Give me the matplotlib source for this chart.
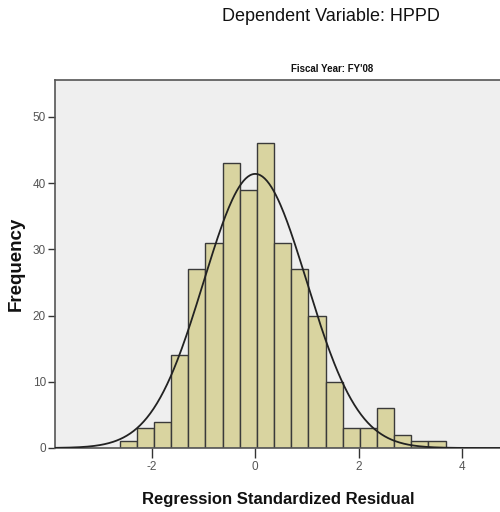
import numpy as np
import matplotlib
matplotlib.use("Agg")
import matplotlib.pyplot as plt

# Histogram of the standardized residuals (SPSS style)
counts = [1, 3, 4, 14, 27, 31, 43, 39, 46, 31, 27, 20, 10, 3, 3, 6, 2, 1, 1]
first_edge = -2.62
bin_width = 0.3316
resid_mean = 0.0
resid_std = 0.997
x_ticks = [-2, 0, 2, 4]
y_ticks = [0, 10, 20, 30, 40, 50]

title = "Dependent Variable: HPPD"
subtitle = "Fiscal Year: FY'08"
x_label = "Regression Standardized Residual"
y_label = "Frequency"

plt.rcParams["font.family"] = ["Liberation Sans", "DejaVu Sans"]
plt.rcParams["axes.unicode_minus"] = False

fig = plt.figure(figsize=(5.0, 5.12), dpi=100)
ax = fig.add_axes([0.11, 0.125, 0.895, 0.719])
ax.set_facecolor("#efefef")

lefts = first_edge + bin_width * np.arange(len(counts))
ax.bar(lefts, counts, width=bin_width, align="edge",
       color="#d9d4a0", edgecolor="#3a3a3a", linewidth=1.0, zorder=2)

# fitted normal curve, scaled to the histogram as SPSS draws it
xmin, xmax = -3.87, 4.78
xs = np.linspace(xmin, xmax, 400)
n_total = sum(counts)
curve = n_total * bin_width * np.exp(-0.5 * ((xs - resid_mean) / resid_std) ** 2) / (resid_std * np.sqrt(2 * np.pi))
ax.plot(xs, curve, color="#222222", linewidth=1.3, zorder=3)

ax.set_xlim(xmin, xmax)
ax.set_ylim(0, 55.6)
ax.set_xticks(x_ticks)
ax.set_yticks(y_ticks)
ax.tick_params(axis="both", colors="#333333", labelcolor="#555555",
               labelsize=8.5, length=5, width=1.0, direction="out")
ax.tick_params(axis="y", pad=1.5)
ax.tick_params(axis="x", length=7, pad=2)

for side in ("left", "bottom", "top"):
    ax.spines[side].set_color("#555555")
    ax.spines[side].set_linewidth(1.2)
ax.spines["right"].set_visible(False)

ax.set_xlabel(x_label, fontsize=12, fontweight="bold", color="#111111", labelpad=14)
ax.set_ylabel(y_label, fontsize=13.5, fontweight="bold", color="#111111", labelpad=6)

fig.text(0.662, 0.967, title, ha="center", va="center",
         fontsize=13, color="#111111")
fig.text(0.664, 0.866, subtitle, ha="center", va="center",
         fontsize=7, fontweight="bold", color="#111111")

fig.savefig("out.png", dpi=100)
